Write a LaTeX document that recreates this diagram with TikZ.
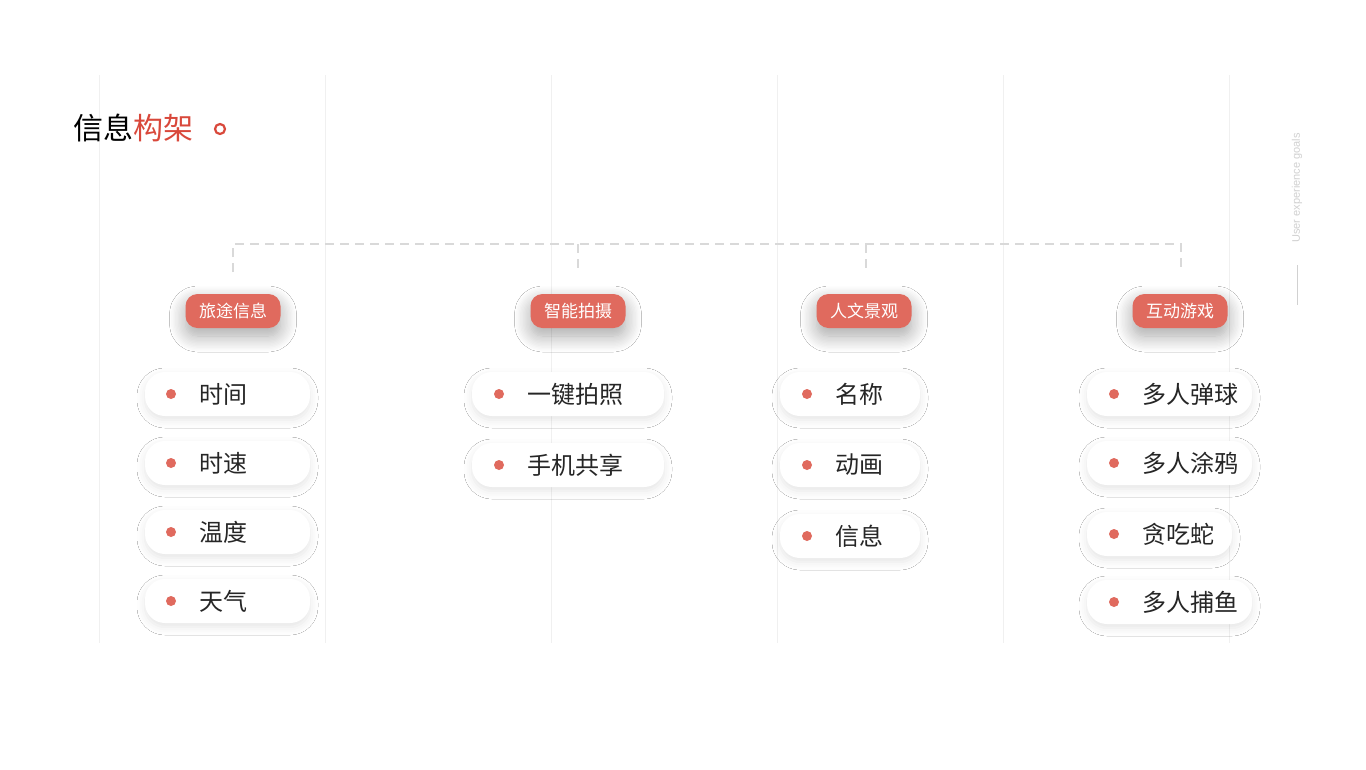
\documentclass[tikz,border=0pt]{standalone}
\usepackage{fontspec}
\setmainfont{Noto Sans CJK SC}
\newfontfamily\lat{Liberation Sans}
\usetikzlibrary{shadows.blur}
\definecolor{acc}{HTML}{E06A5E}
\definecolor{ttl}{HTML}{D9483B}
\begin{document}
\begin{tikzpicture}[x=1pt,y=-1pt,
 cat/.style={fill=acc,rounded corners=12pt,minimum width=95pt,minimum height=34pt,text=white,font=\fontsize{17}{17}\selectfont,inner sep=0pt,blur shadow={shadow xshift=0pt,shadow yshift=-8pt,shadow blur radius=16pt,shadow opacity=35,shadow blur steps=12}},
 item/.style={fill=white,rounded corners=20pt,minimum height=44pt,inner sep=0pt,blur shadow={shadow xshift=0pt,shadow yshift=-4pt,shadow blur radius=8pt,shadow opacity=10}},
 lbl/.style={anchor=west,font=\fontsize{24}{24}\selectfont,text=black!85,inner sep=0pt},
 dotn/.style={circle,fill=acc,minimum size=10pt,inner sep=0pt},
 gridl/.style={draw=black!6,line width=0.8pt},
 dline/.style={draw=black!15,line width=2pt,dash pattern=on 9pt off 6pt}]
\useasboundingbox[fill=white] (0,0) rectangle (1366,769);
\foreach \x in {99,325,551,777,1003,1229} \draw[gridl] (\x,75) -- (\x,643);
\node[anchor=west,inner sep=0pt,font=\fontsize{30}{30}\selectfont] (title) at (73,128) {信息\textcolor{ttl}{构架}};
\draw[ttl,line width=2.2pt] (220,129) circle (5pt);
\node[rotate=90,font=\lat\fontsize{11}{11}\selectfont,text=black!18] (ux) at (1297,188) {User experience goals};
\coordinate (l1) at (1297,265); \coordinate (l2) at (1297,305);
\draw[black!18] (l1) -- (l2);
\node[cat] (c1) at (233,311) {旅途信息};
\node[cat] (c2) at (578,311) {智能拍摄};
\node[cat] (c3) at (864,311) {人文景观};
\node[cat] (c4) at (1180,311) {互动游戏};
\coordinate (h1) at (233,244); \coordinate (h2) at (578,244); \coordinate (h3) at (866,244); \coordinate (h4) at (1181,244);
\draw[dline] (233,272) -- (h1) -- (h4) -- (1181,272);
\draw[dline] (h2) -- (578,272);
\draw[dline] (h3) -- (866,272);
\newcommand\itm[6]{%
 \node[item,minimum width={(#3-#2)*1pt}] (#1) at ({(#2+#3)/2},#4) {};
 \node[dotn] (#1d) at (#5,#4) {};
 \node[lbl] (#1t) at (#5+28,#4) {#6};}
\itm{a1}{145}{310}{394}{171}{时间}
\itm{a2}{145}{310}{463}{171}{时速}
\itm{a3}{145}{310}{532}{171}{温度}
\itm{a4}{145}{310}{601}{171}{天气}
\itm{b1}{472}{664}{394}{499}{一键拍照}
\itm{b2}{472}{664}{465}{499}{手机共享}
\itm{d1}{780}{920}{394}{807}{名称}
\itm{d2}{780}{920}{465}{807}{动画}
\itm{d3}{780}{920}{536}{807}{信息}
\itm{e1}{1087}{1252}{394}{1114}{多人弹球}
\itm{e2}{1087}{1252}{463}{1114}{多人涂鸦}
\itm{e3}{1087}{1232}{534}{1114}{贪吃蛇}
\itm{e4}{1087}{1252}{602}{1114}{多人捕鱼}
\end{tikzpicture}
\end{document}
